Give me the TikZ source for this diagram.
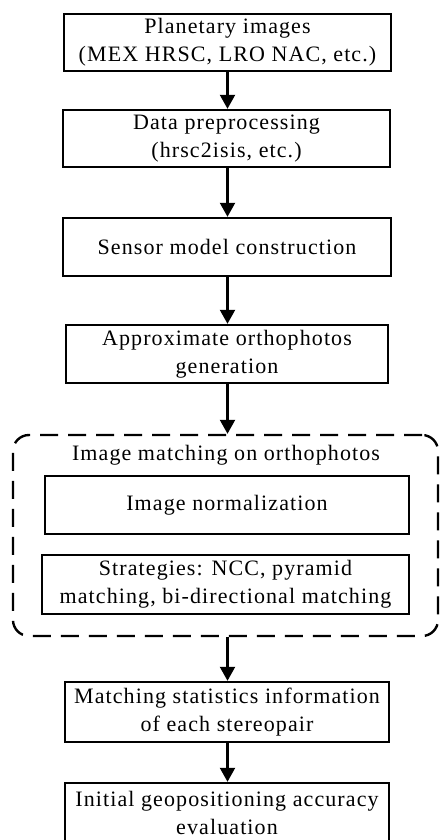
\documentclass[tikz,border=0pt]{standalone}
\usepackage{fontspec}
\setmainfont{Liberation Serif}[LetterSpace=5]
\usetikzlibrary{arrows.meta}
\begin{document}
\begin{tikzpicture}[x=1pt,y=-1pt,
  every node/.style={font=\fontsize{22}{28}\selectfont, align=center, inner sep=0pt},
  stepbox/.style={draw, line width=2.4pt, minimum height=57pt},
  groupbox/.style={draw, line width=2.4pt, dash pattern=on 18pt off 10pt, rounded corners=16pt},
  flow/.style={line width=2.2pt, -{Triangle[length=14pt,width=15pt]}}]
  \clip (0,0) rectangle (440,840);

  % main chain of processing steps
  \node[stepbox, minimum width=327pt] (img)  at (227.5,42.5) {Planetary images\\(MEX HRSC, LRO NAC, etc.)};
  \node[stepbox, minimum width=327pt] (prep) at (226.5,138.5) {Data preprocessing\\(hrsc2isis, etc.)};
  \node[stepbox, minimum width=328pt, minimum height=58pt] (sens) at (227,247) {Sensor model construction};
  \node[stepbox, minimum width=322pt, minimum height=58pt] (orth) at (227,354) {Approximate orthophotos\\generation};

  % image matching group
  \node[groupbox, minimum width=425pt, minimum height=201pt] (grp) at (225.5,535.5) {};
  \node (grpt) at (226,455) {Image matching on orthophotos};
  \node[stepbox, minimum width=364pt, minimum height=58pt] (norm) at (227,505) {Image normalization};
  \node[stepbox, minimum width=367pt, minimum height=59pt] (strat) at (225.5,584.5) {Strategies: NCC, pyramid\\matching, bi-directional matching};

  \node[stepbox, minimum width=324pt, minimum height=60pt] (stat) at (227,712) {Matching statistics information\\of each stereopair};
  \node[stepbox, minimum width=324pt, minimum height=60pt] (eval) at (227,813) {Initial geopositioning accuracy\\evaluation};

  % connectors
  \draw[flow] (img.south -| 227.5,0) -- (prep.north -| 227.5,0);
  \draw[flow] (prep.south -| 227.5,0) -- (sens.north -| 227.5,0);
  \draw[flow] (sens.south -| 227.5,0) -- (orth.north -| 227.5,0);
  \draw[flow] (orth.south -| 227.5,0) -- (grp.north -| 227.5,0);
  \draw[flow] (grp.south -| 227.5,0) -- (stat.north -| 227.5,0);
  \draw[flow] (stat.south -| 227.5,0) -- (eval.north -| 227.5,0);
\end{tikzpicture}
\end{document}
